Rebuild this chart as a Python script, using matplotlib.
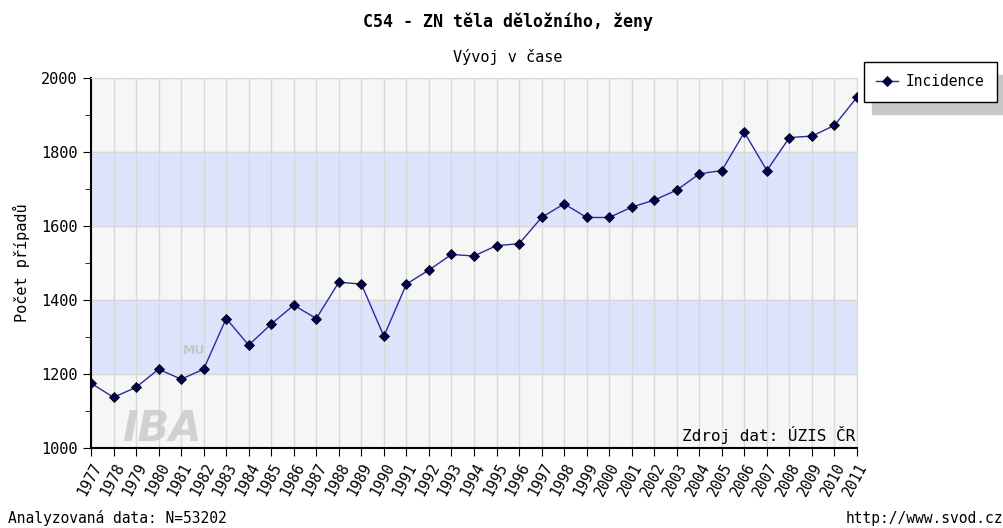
import matplotlib.pyplot as plt
import numpy as np

years = list(range(1977, 2012))
incidence = [1175, 1137, 1164, 1213, 1186, 1213, 1350, 1278, 1335, 1386,
             1350, 1448, 1443, 1302, 1443, 1481, 1523, 1519, 1547, 1552,
             1623, 1660, 1623, 1623, 1651, 1670, 1697, 1741, 1750, 1853,
             1750, 1839, 1843, 1872, 1948]
y_ticks = [1000, 1200, 1400, 1600, 1800, 2000]

plt.rcParams['font.family'] = ['DejaVu Sans Mono']

fig = plt.figure(figsize=(10.04, 5.28), dpi=100)
ax = fig.add_axes([91 / 1004, 1 - 448 / 528, 766 / 1004, 370 / 528])

x = np.arange(len(years))
ax.set_xlim(0, len(years) - 1)
ax.set_ylim(1000, 2000)
ax.set_facecolor('#f6f6f6')

# alternating bands
for lo in (1200, 1600):
    ax.axhspan(lo, lo + 200, color='#dce4fc', zorder=0)

for xi in x:
    ax.axvline(xi, color='#d8d8d8', lw=1, zorder=1)
for yt in y_ticks:
    ax.axhline(yt, color='#d8d8d8', lw=1, zorder=1)

# watermark
ax.text(0.04, 0.02, 'IBA', transform=ax.transAxes, fontsize=30, fontweight='bold',
        fontstyle='italic', family='DejaVu Sans', color='#c8c8c8', alpha=0.8, zorder=1)
ax.text(0.12, 0.255, 'MU', transform=ax.transAxes, fontsize=9, fontweight='bold',
        family='DejaVu Sans', color='#c8c8c8', zorder=1)

ax.plot(x, incidence, color='#2a2aa0', lw=1, marker='D', markersize=5,
        markerfacecolor='#000050', markeredgecolor='black', markeredgewidth=0.6,
        zorder=3, label='Incidence')

ax.set_yticks(y_ticks)
ax.set_yticks(np.arange(1000, 2001, 100), minor=True)
ax.set_xticks(x)
ax.set_xticklabels([str(y) for y in years], rotation=62, ha='right',
                   rotation_mode='anchor', fontsize=10.5)
ax.tick_params(axis='y', labelsize=11, length=6, direction='out')
ax.tick_params(axis='y', which='minor', length=4)
ax.tick_params(axis='x', length=6, direction='out', pad=3)

for s in ('top', 'right'):
    ax.spines[s].set_color('#d8d8d8')
for s in ('left', 'bottom'):
    ax.spines[s].set_color('black')
    ax.spines[s].set_linewidth(1.5)

ax.set_ylabel('Počet případů', fontsize=11, labelpad=8)

ax.text(0.998, 0.01, 'Zdroj dat: ÚZIS ČR', transform=ax.transAxes,
        ha='right', va='bottom', fontsize=11.5, zorder=4)

fig.text(508 / 1004, 1 - 22 / 528, 'C54 - ZN těla děložního, ženy', ha='center',
         va='center', fontsize=12, fontweight='bold')
fig.text(508 / 1004, 1 - 57 / 528, 'Vývoj v čase', ha='center', va='center', fontsize=11)
fig.text(8 / 1004, 1 - 518 / 528, 'Analyzovaná data: N=53202', ha='left',
         va='center', fontsize=10.5)
fig.text(1003 / 1004, 1 - 518 / 528, 'http://www.svod.cz', ha='right',
         va='center', fontsize=10.5)

leg = fig.legend(loc='upper left', bbox_to_anchor=(864 / 1004, 1 - 62 / 528),
                 fontsize=10.5, frameon=True, fancybox=False,
                 shadow={'color': '#c8c8c8', 'alpha': 1, 'ox': 6, 'oy': -9},
                 borderpad=0.85, handlelength=1.5, handletextpad=0.5, borderaxespad=0)
leg.get_frame().set_edgecolor('black')
leg.get_frame().set_linewidth(1)

fig.savefig('out.png', dpi=100)
